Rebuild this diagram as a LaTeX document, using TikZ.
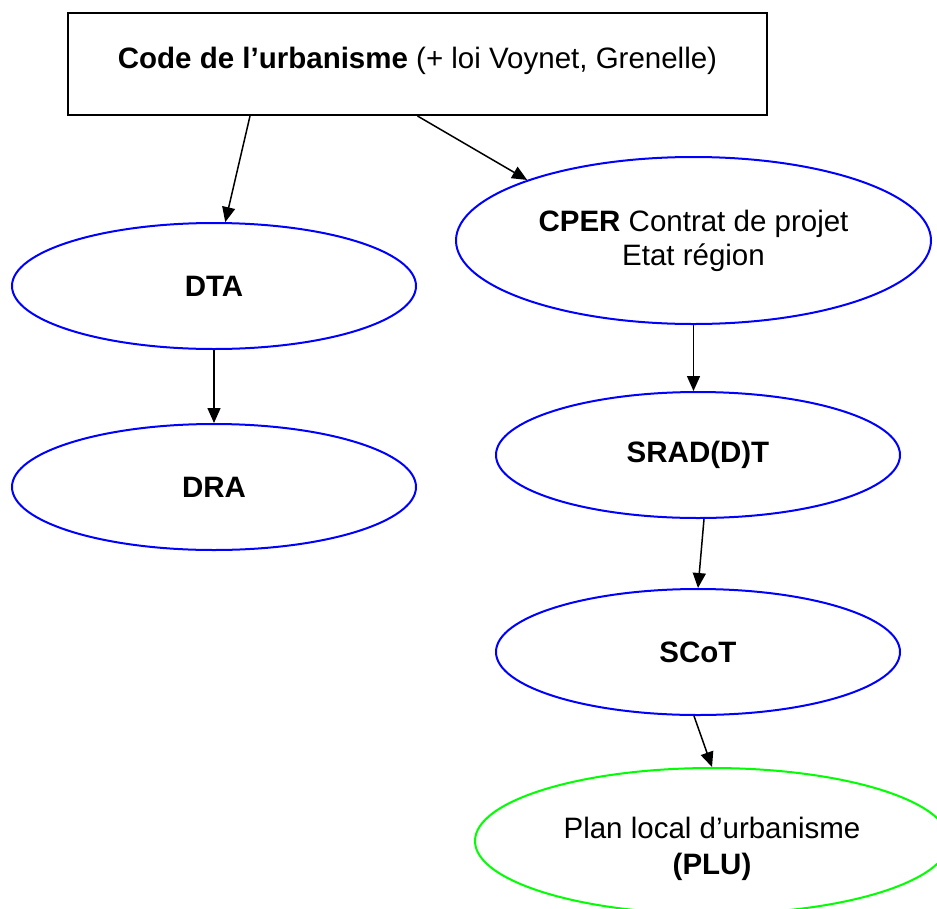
\documentclass[tikz,border=0pt]{standalone}
\usepackage{fontspec}
\setmainfont{Liberation Sans}
\usetikzlibrary{shapes.geometric,arrows.meta}
\begin{document}
\begin{tikzpicture}[x=1pt,y=-1pt,
  every node/.style={font=\fontsize{29.5}{34}\selectfont, inner sep=0pt},
  box/.style={draw=black, line width=2pt, rectangle},
  oval/.style={ellipse, draw=blue, line width=2pt},
  conn/.style={-{Triangle[length=15pt,width=13pt]}, line width=1.5pt}]
\useasboundingbox (0,0) rectangle (937,908);
\clip (0,0) rectangle (937,908);
\node[box, minimum width=699pt, minimum height=102pt, text height=21pt, text depth=13pt] (code) at (417.5,64) {\textbf{Code de l’urbanisme} (+ loi Voynet, Grenelle)};
\node[oval, minimum width=404pt, minimum height=126pt] (dta) at (214,286) {\textbf{DTA}};
\node[oval, minimum width=404pt, minimum height=126pt] (dra) at (214,487) {\textbf{DRA}};
\node[oval, minimum width=475pt, minimum height=167pt, align=center] (cper) at (693.5,240.5) {\textbf{CPER} Contrat de projet\\Etat région};
\node[oval, minimum width=404pt, minimum height=126pt] (srad) at (698,455) {\textbf{SRAD(D)T}};
\node[oval, minimum width=404pt, minimum height=126pt] (scot) at (698,652) {\textbf{SCoT}};
\node[oval, draw=green, minimum width=474pt, minimum height=146pt] (plu) at (712,841) {};
\node[align=center, font=\fontsize{29.5}{36}\selectfont] (plutext) at (712,849) {Plan local d’urbanisme\\\textbf{(PLU)}};
\draw[conn] ([xshift=-167.5pt]code.south) -- (dta.80);
\draw[conn] (code.south) -- (cper.160);
\draw[conn] (dta.south) -- (dra.north);
\draw[conn] (cper.south) -- (cper.south |- srad.north);
\draw[conn] ([xshift=6pt]srad.south) -- (scot.north);
\draw[conn] ([xshift=-4pt]scot.south) -- (plu.north);
\end{tikzpicture}
\end{document}
